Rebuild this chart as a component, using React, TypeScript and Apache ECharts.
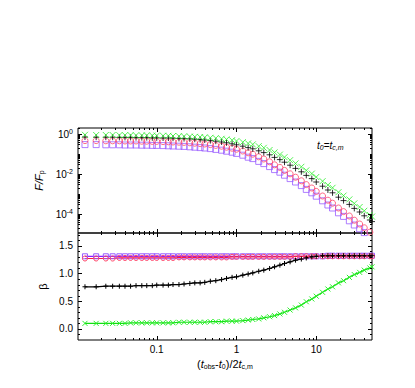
import React, { useEffect, useRef } from 'react';
import * as echarts from 'echarts';

// (t_obs - t0) / 2 t_c,m
const xObs = [0.0126, 0.0174, 0.023, 0.028, 0.034, 0.04, 0.047, 0.055, 0.065, 0.075, 0.088, 0.1, 0.12, 0.14, 0.16, 0.19, 0.22, 0.26, 0.3, 0.35, 0.4, 0.47, 0.55, 0.65, 0.75, 0.88, 1.0, 1.2, 1.4, 1.6, 1.9, 2.2, 2.6, 3.0, 3.5, 4.0, 4.7, 5.5, 6.5, 7.5, 8.8, 10, 12, 14, 16, 19, 22, 26, 30, 35, 40, 47, 50];

// log10(F/Fp)
const logFGreen = [-0.04, -0.05, -0.05, -0.05, -0.06, -0.06, -0.06, -0.07, -0.07, -0.07,
  -0.08, -0.08, -0.09, -0.09, -0.10, -0.11, -0.12, -0.13, -0.14, -0.15,
  -0.17, -0.19, -0.21, -0.24, -0.27, -0.31, -0.35, -0.41, -0.47, -0.52,
  -0.61, -0.69, -0.80, -0.92, -1.03, -1.16, -1.31, -1.47, -1.64, -1.82,
  -1.98, -2.15, -2.36, -2.55, -2.69, -2.91, -3.08, -3.27, -3.47, -3.65,
  -3.84, -4.05, -4.13];
const logFBlack = [-0.15, -0.16, -0.16, -0.16, -0.17, -0.17, -0.17, -0.18, -0.18, -0.18,
  -0.19, -0.19, -0.20, -0.20, -0.21, -0.22, -0.23, -0.24, -0.26, -0.28,
  -0.30, -0.33, -0.36, -0.40, -0.44, -0.49, -0.54, -0.61, -0.68, -0.74,
  -0.84, -0.93, -1.04, -1.17, -1.28, -1.41, -1.56, -1.72, -1.89, -2.07,
  -2.23, -2.40, -2.61, -2.80, -2.94, -3.16, -3.33, -3.52, -3.72, -3.90,
  -4.09, -4.30, -4.38];
const logFRed = [-0.33, -0.33, -0.34, -0.34, -0.34, -0.35, -0.35, -0.35, -0.36, -0.36,
  -0.37, -0.37, -0.38, -0.39, -0.40, -0.41, -0.42, -0.44, -0.46, -0.48,
  -0.50, -0.53, -0.57, -0.61, -0.66, -0.71, -0.76, -0.85, -0.94, -1.01,
  -1.14, -1.25, -1.39, -1.54, -1.67, -1.82, -1.99, -2.16, -2.34, -2.53,
  -2.70, -2.87, -3.10, -3.31, -3.46, -3.70, -3.88, -4.10, -4.31, -4.50,
  -4.69, -4.91, -5.00];
const logFPurple = [-0.53, -0.53, -0.54, -0.54, -0.54, -0.55, -0.55, -0.55, -0.56, -0.56,
  -0.57, -0.57, -0.58, -0.59, -0.60, -0.61, -0.62, -0.64, -0.66, -0.68,
  -0.70, -0.73, -0.77, -0.81, -0.86, -0.91, -0.97, -1.06, -1.16, -1.23,
  -1.37, -1.48, -1.63, -1.78, -1.91, -2.06, -2.23, -2.40, -2.58, -2.77,
  -2.94, -3.11, -3.34, -3.55, -3.70, -3.94, -4.12, -4.34, -4.55, -4.74,
  -4.93, -5.15, -5.24];

// beta
const betaGreen = [0.10, 0.10, 0.10, 0.10, 0.10, 0.10, 0.11, 0.11, 0.11, 0.11,
  0.11, 0.11, 0.11, 0.11, 0.11, 0.12, 0.12, 0.12, 0.12, 0.12,
  0.12, 0.13, 0.13, 0.13, 0.14, 0.14, 0.14, 0.15, 0.16, 0.17,
  0.18, 0.20, 0.22, 0.24, 0.27, 0.30, 0.34, 0.38, 0.43, 0.49,
  0.54, 0.59, 0.66, 0.72, 0.76, 0.83, 0.87, 0.93, 0.98, 1.02,
  1.06, 1.10, 1.12];
const betaBlack = [0.76, 0.76, 0.77, 0.77, 0.77, 0.77, 0.77, 0.78, 0.78, 0.78,
  0.78, 0.79, 0.79, 0.79, 0.80, 0.80, 0.81, 0.82, 0.83, 0.83,
  0.84, 0.86, 0.87, 0.89, 0.91, 0.93, 0.94, 0.97, 0.99, 1.01,
  1.04, 1.06, 1.09, 1.12, 1.15, 1.18, 1.21, 1.24, 1.26, 1.28,
  1.30, 1.31, 1.32, 1.32, 1.32, 1.32, 1.32, 1.32, 1.32, 1.32,
  1.32, 1.32, 1.32];
const betaRed = [1.27, 1.27, 1.27, 1.27, 1.28, 1.28, 1.28, 1.28, 1.28, 1.28,
  1.28, 1.28, 1.28, 1.28, 1.28, 1.29, 1.29, 1.29, 1.29, 1.29,
  1.29, 1.29, 1.29, 1.29, 1.29, 1.30, 1.30, 1.30, 1.30, 1.30,
  1.30, 1.30, 1.30, 1.30, 1.30, 1.30, 1.30, 1.31, 1.31, 1.31,
  1.31, 1.31, 1.31, 1.31, 1.31, 1.31, 1.31, 1.31, 1.31, 1.31,
  1.31, 1.31, 1.31];
const betaPurple = [1.31, 1.31, 1.31, 1.31, 1.31, 1.31, 1.31, 1.31, 1.31, 1.31,
  1.31, 1.31, 1.31, 1.31, 1.31, 1.31, 1.31, 1.31, 1.31, 1.31,
  1.31, 1.31, 1.31, 1.31, 1.31, 1.31, 1.31, 1.31, 1.31, 1.31,
  1.31, 1.31, 1.31, 1.31, 1.31, 1.31, 1.31, 1.31, 1.31, 1.31,
  1.31, 1.31, 1.31, 1.32, 1.32, 1.32, 1.32, 1.32, 1.32, 1.32,
  1.32, 1.32, 1.32];

// axes
const xRange = [0.0103, 50];
const xLabelTicks = [0.1, 1, 10];
const xMinorTicks = [0.02, 0.03, 0.04, 0.05, 0.06, 0.07, 0.08, 0.09, 0.2, 0.3, 0.4, 0.5, 0.6, 0.7, 0.8, 0.9, 2, 3, 4, 5, 6, 7, 8, 9, 20, 30, 40];
const fRangeLog = [-4.95, 0.3];
const fLabelTicksLog = [-4, -2, 0];
const fMinorTicks = [
  0.00002, 0.00003, 0.00004, 0.00005, 0.00006, 0.00007, 0.00008, 0.00009, 0.0001,
  0.0002, 0.0003, 0.0004, 0.0005, 0.0006, 0.0007, 0.0008, 0.0009, 0.001,
  0.002, 0.003, 0.004, 0.005, 0.006, 0.007, 0.008, 0.009,
  0.02, 0.03, 0.04, 0.05, 0.06, 0.07, 0.08, 0.09, 0.1,
  0.2, 0.3, 0.4, 0.5, 0.6, 0.7, 0.8, 0.9, 2];
const betaRange = [-0.2, 1.73];
const betaLabelTicks = [0, 0.5, 1.0, 1.5];
const betaMinorTicks = [-0.1, 0.1, 0.2, 0.3, 0.4, 0.6, 0.7, 0.8, 0.9, 1.1, 1.2, 1.3, 1.4, 1.6, 1.7];

const FONT = '"Liberation Sans", Arial, sans-serif';
const C_GREEN = '#2bef2b';
const C_BLACK = '#000000';
const C_RED = '#ff4468';
const C_PURPLE = '#9a5cff';
const L_RED = '#ff1a40';
const L_PURPLE = '#8a1cff';

const SYM_X = 'path://M0,0L10,10M10,0L0,10';
const SYM_PLUS = 'path://M5,0L5,10M0,5L10,5';

export default function App() {
  const ref = useRef<HTMLDivElement>(null);
  useEffect(() => {
    if (!ref.current) return;
    const chart = echarts.init(ref.current, undefined, { renderer: 'svg' });
    const lx = xObs.map((x) => Math.log10(x));

    const xTickData = [
      ...xLabelTicks.map((v) => [Math.log10(v), 1]),
      ...xMinorTicks.map((v) => [Math.log10(v), 0]),
    ];
    const fTickData = [
      ...fLabelTicksLog.map((v) => [0, v, 1]),
      ...fMinorTicks.map((v) => [0, Math.log10(v), 0]),
    ];
    const bTickData = [
      ...betaLabelTicks.map((v) => [0, v, 1]),
      ...betaMinorTicks.map((v) => [0, v, 0]),
    ];

    const tickStyle = { stroke: '#000', lineWidth: 1 };
    const xTickRender = (params: any, api: any) => {
      const cs = params.coordSys;
      const px = Math.round(api.coord([api.value(0), 0])[0]) + 0.5;
      const len = api.value(1) ? 4 : 2;
      const b = cs.y + cs.height;
      return {
        type: 'group',
        children: [
          { type: 'line', shape: { x1: px, y1: b, x2: px, y2: b - len }, style: tickStyle },
          { type: 'line', shape: { x1: px, y1: cs.y, x2: px, y2: cs.y + len }, style: tickStyle },
        ],
      };
    };
    const yTickRender = (params: any, api: any) => {
      const cs = params.coordSys;
      const py = Math.round(api.coord([0, api.value(1)])[1]) + 0.5;
      const len = api.value(2) ? 4 : 2;
      const r = cs.x + cs.width;
      return {
        type: 'group',
        children: [
          { type: 'line', shape: { x1: cs.x, y1: py, x2: cs.x + len, y2: py }, style: tickStyle },
          { type: 'line', shape: { x1: r, y1: py, x2: r - len, y2: py }, style: tickStyle },
        ],
      };
    };

    const subRich = {
      i: { fontStyle: 'italic', fontSize: 11, fontFamily: FONT, color: '#000' },
      n: { fontSize: 11, fontFamily: FONT, color: '#000' },
      s: { fontSize: 7, fontFamily: FONT, color: '#000', verticalAlign: 'bottom', padding: [5, 0, 0, 0] },
    };

    const fmtX = (v: number) => {
      const t = Math.pow(10, v);
      return t < 1 ? t.toFixed(1) : String(Math.round(t));
    };

    const markers = [
      { name: 'purple', f: logFPurple, b: betaPurple, sym: 'rect', color: C_PURPLE, line: L_PURPLE },
      { name: 'red', f: logFRed, b: betaRed, sym: 'circle', color: C_RED, line: L_RED },
      { name: 'black', f: logFBlack, b: betaBlack, sym: SYM_PLUS, color: C_BLACK, line: C_BLACK },
      { name: 'green', f: logFGreen, b: betaGreen, sym: SYM_X, color: C_GREEN, line: '#11e011' },
    ];

    const series: any[] = [];
    markers.forEach((m) => {
      series.push({
        type: 'scatter',
        name: m.name + '-F',
        xAxisIndex: 0,
        yAxisIndex: 0,
        data: lx.map((x, i) => [x, m.f[i]]),
        symbol: m.sym,
        symbolSize: 6,
        itemStyle: { color: 'none', borderColor: m.color, borderWidth: 1 },
        clip: true,
        z: 3,
      });
    });
    markers.forEach((m) => {
      series.push({
        type: 'line',
        name: m.name + '-beta',
        xAxisIndex: 1,
        yAxisIndex: 1,
        data: lx.map((x, i) => [x, m.b[i]]),
        symbol: m.sym,
        symbolSize: 5,
        showSymbol: true,
        showAllSymbol: true,
        lineStyle: { color: m.line, width: 1.2 },
        itemStyle: { color: 'none', borderColor: m.color, borderWidth: 1 },
        clip: true,
        z: 3,
      });
    });
    series.push(
      { type: 'custom', xAxisIndex: 0, yAxisIndex: 0, data: xTickData, renderItem: xTickRender, silent: true, z: 5, clip: false },
      { type: 'custom', xAxisIndex: 1, yAxisIndex: 1, data: xTickData, renderItem: xTickRender, silent: true, z: 5, clip: false },
      { type: 'custom', xAxisIndex: 0, yAxisIndex: 0, data: fTickData, renderItem: yTickRender, silent: true, z: 5, clip: false },
      { type: 'custom', xAxisIndex: 1, yAxisIndex: 1, data: bTickData, renderItem: yTickRender, silent: true, z: 5, clip: false },
    );

    const xMin = Math.log10(xRange[0]);
    const xMax = Math.log10(xRange[1]);

    chart.setOption({
      animation: false,
      backgroundColor: '#fff',
      grid: [
        { left: 78, top: 128, width: 294, height: 105, show: true, borderColor: '#000', borderWidth: 1, backgroundColor: 'transparent' },
        { left: 78, top: 233, width: 294, height: 107, show: true, borderColor: '#000', borderWidth: 1, backgroundColor: 'transparent' },
      ],
      xAxis: [
        {
          gridIndex: 0, type: 'value', min: xMin, max: xMax,
          axisLine: { show: false }, axisTick: { show: false }, splitLine: { show: false }, axisLabel: { show: false },
        },
        {
          gridIndex: 1, type: 'value', min: xMin, max: xMax,
          axisLine: { show: false }, axisTick: { show: false }, splitLine: { show: false },
          axisLabel: {
            customValues: xLabelTicks.map((v) => Math.log10(v)),
            formatter: (v: number) => fmtX(v),
            fontSize: 10, fontFamily: FONT, color: '#000', margin: 4,
          },
          name: '{n|(}{i|t}{s|obs}{n|-}{i|t}{s|0}{n|)/2}{i|t}{s|c,m}',
          nameLocation: 'middle',
          nameGap: 18,
          nameTextStyle: {
            rich: subRich,
          },
        },
      ],
      yAxis: [
        {
          gridIndex: 0, type: 'value', min: fRangeLog[0], max: fRangeLog[1],
          axisLine: { show: false }, axisTick: { show: false }, splitLine: { show: false },
          axisLabel: {
            customValues: fLabelTicksLog,
            formatter: (v: number) => '{b|10}{p|' + Math.round(v) + '}',
            margin: 5,
            rich: {
              b: { fontSize: 10, fontFamily: FONT, color: '#000' },
              p: { fontSize: 7, fontFamily: FONT, color: '#000', verticalAlign: 'top', padding: [0, 0, 5, 0] },
            },
          },
          name: '{i|F/F}{s|p}',
          nameLocation: 'middle',
          nameGap: 28,
          nameTextStyle: { rich: subRich },
        },
        {
          gridIndex: 1, type: 'value', min: betaRange[0], max: betaRange[1],
          axisLine: { show: false }, axisTick: { show: false }, splitLine: { show: false },
          axisLabel: {
            customValues: betaLabelTicks,
            formatter: (v: number) => v.toFixed(1),
            fontSize: 10, fontFamily: FONT, color: '#000', margin: 5,
          },
          name: 'β',
          nameLocation: 'middle',
          nameGap: 28,
          nameTextStyle: { fontSize: 11, fontFamily: FONT, color: '#000' },
        },
      ],
      graphic: [
        {
          type: 'text',
          left: 317,
          top: 140,
          style: {
            text: '{i|t}{s|0}{n|=}{i|t}{s|c,m}',
            rich: {
              i: { fontStyle: 'italic', fontSize: 10, fontFamily: FONT, color: '#000' },
              n: { fontSize: 10, fontFamily: FONT, color: '#000' },
              s: { fontStyle: 'italic', fontSize: 7, fontFamily: FONT, color: '#000', verticalAlign: 'bottom', padding: [5, 0, 0, 0] },
            },
          },
        },
      ],
      series,
    });
    return () => chart.dispose();
  }, []);
  return <div ref={ref} style={{ position: 'absolute', left: 0, top: 0, width: 415, height: 388 }} />;
}
